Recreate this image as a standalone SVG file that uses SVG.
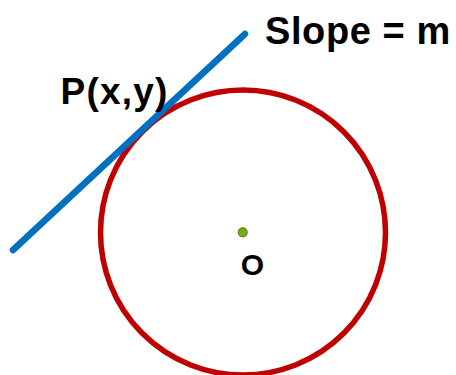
<svg xmlns="http://www.w3.org/2000/svg" width="456" height="375" viewBox="0 0 456 375">
<style>
.lbl{font-family:"Liberation Sans",Arial,sans-serif;fill:#000}
.b{font-weight:bold}
</style>
<rect width="456" height="375" fill="#fff"/>
<g id="circle"><circle cx="243" cy="232.5" r="142.5" fill="none" stroke="#c00000" stroke-width="5.5"/></g>
<g id="center"><circle cx="242.7" cy="232.3" r="4.5" fill="#7aaa1e" stroke="#5b8a12" stroke-width="1.2"/>
<text class="lbl b" x="252.5" y="275" font-size="30" text-anchor="middle">O</text></g>
<g id="connectors"><line id="tangent" x1="13" y1="250" x2="245" y2="34" stroke="#0070c0" stroke-width="6.5" stroke-linecap="round"/></g>
<g id="point"><text class="lbl b" x="60.5" y="103.5" font-size="37" letter-spacing="1.2">P(x,y)</text></g>
<g id="slope"><text class="lbl b" x="265" y="44.3" font-size="38" letter-spacing="0.6">Slope = m</text></g>
</svg>
